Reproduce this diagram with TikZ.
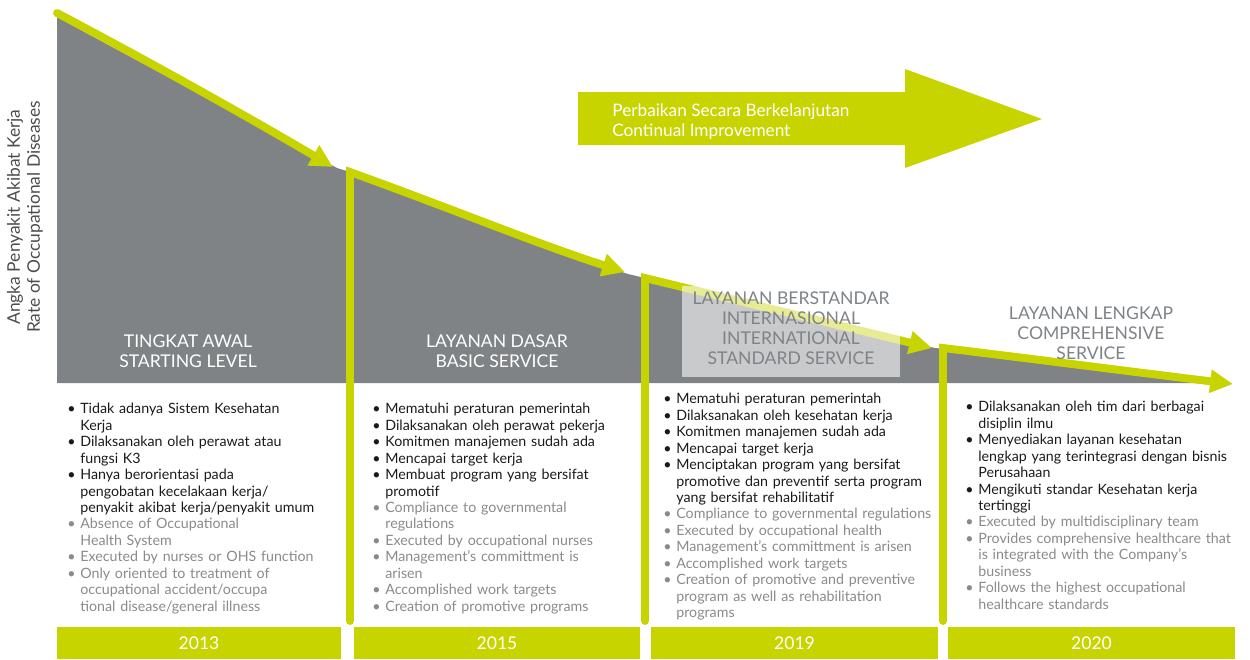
\documentclass[tikz,border=0pt]{standalone}
\usepackage{fontspec}
\setmainfont{Lato}
\usetikzlibrary{arrows.meta}

\definecolor{limegreen}{HTML}{C8D400}
\definecolor{slategray}{HTML}{7F8386}
\definecolor{titlegray}{HTML}{7F8387}
\definecolor{engtext}{HTML}{8A8A8A}
\definecolor{idtext}{HTML}{1A1A1A}
\definecolor{axistext}{HTML}{4D4D4D}

\newcommand{\bul}[2][idtext]{\par\hangindent=7.4pt\hangafter=1\noindent\textcolor{#1}{\makebox[7.4pt][l]{\textbullet}#2}}

\begin{document}
\begin{tikzpicture}[
    x=0.02cm, y=-0.02cm,
    trend/.style={draw=limegreen, line width=4.5pt, line cap=round, -{Triangle[width=12.5pt,length=13pt]}},
    title/.style={align=center, inner sep=0, font=\fontsize{10}{11.3}\selectfont},
    list/.style={anchor=north west, inner sep=0, text width=6cm, align=left, font=\fontsize{8.1}{9.36}\selectfont},
    yearbar/.style={fill=limegreen, text=white, minimum height=0.64cm, inner sep=0, font=\fontsize{10}{12}\selectfont}
]
    \useasboundingbox (0,0) rectangle (1250,659);

    % Declining area
    \fill[slategray] (57,17) .. controls (150,68) and (250,120) .. (337,168) -- (350,172)
        .. controls (450,208) and (540,246) .. (628,274) -- (645,278) -- (935,348) -- (945,349)
        .. controls (1050,362) and (1150,374) .. (1225,383) -- (57,383) -- cycle;

    % Axis label
    \node[rotate=90, align=center, text=axistext, font=\fontsize{9.9}{11.3}\selectfont] (axis) at (25,217)
        {Angka Penyakit Akibat Kerja\\Rate of Occupational Diseases};

    % Stage titles
    \node[title, text=white] (starting) at (188,351) {TINGKAT AWAL\\STARTING LEVEL};
    \node[title, text=white] (basic) at (497,351) {LAYANAN DASAR\\BASIC SERVICE};

    % Trend lines
    \coordinate (s1) at (57,13);
    \coordinate (e1) at (333,167);
    \coordinate (b2) at (350,621);
    \coordinate (s2) at (350,172);
    \coordinate (e2) at (625,272);
    \coordinate (b3) at (645,621);
    \coordinate (s3) at (645,278);
    \coordinate (e3) at (932,348);
    \coordinate (b4) at (943,621);
    \coordinate (s4) at (943,348);
    \coordinate (e4) at (1233,384);
    \draw[trend] (s1) .. controls (150,62) and (250,118) .. (e1);
    \draw[trend] (b2) -- (s2) .. controls (450,208) and (540,245) .. (e2);
    \draw[trend] (b3) -- (s3) -- (e3);
    \draw[trend] (b4) -- (s4) .. controls (1050,361) and (1150,374) .. (e4);

    % Highlight box
    \fill[white, fill opacity=0.58] (682,286) rectangle (900,377);
    \node[title, text=titlegray] (intl) at (791,328)
        {LAYANAN BERSTANDAR\\INTERNASIONAL\\INTERNATIONAL\\STANDARD SERVICE};
    \node[title, text=titlegray] (comp) at (1091,333)
        {LAYANAN LENGKAP\\COMPREHENSIVE\\SERVICE};

    % Continual improvement arrow
    \fill[limegreen] (578,92) -- (905,92) -- (905,69) -- (1042,119) -- (905,168) -- (905,145) -- (578,145) -- cycle;
    \node[anchor=west, align=left, text=white, inner sep=0, font=\fontsize{9.8}{11.3}\selectfont] (improve) at (612,122)
        {Perbaikan Secara Berkelanjutan\\Continual Improvement};

    % Stage descriptions
    \node[list] (txt2013) at (67,397) {%
        \bul{Tidak adanya Sistem Kesehatan\newline Kerja}
        \bul{Dilaksanakan oleh perawat atau\newline fungsi K3}
        \bul{Hanya berorientasi pada\newline pengobatan kecelakaan kerja/\newline penyakit akibat kerja/penyakit umum}
        \bul[engtext]{Absence of Occupational\newline Health System}
        \bul[engtext]{Executed by nurses or OHS function}
        \bul[engtext]{Only oriented to treatment of\newline occupational accident/occupa\newline tional disease/general illness}\par};
    \node[list] (txt2015) at (372,397) {%
        \bul{Mematuhi peraturan pemerintah}
        \bul{Dilaksanakan oleh perawat pekerja}
        \bul{Komitmen manajemen sudah ada}
        \bul{Mencapai target kerja}
        \bul{Membuat program yang bersifat\newline promotif}
        \bul[engtext]{Compliance to governmental\newline regulations}
        \bul[engtext]{Executed by occupational nurses}
        \bul[engtext]{Management's committment is\newline arisen}
        \bul[engtext]{Accomplished work targets}
        \bul[engtext]{Creation of promotive programs}\par};
    \node[list] (txt2019) at (663,387) {%
        \bul{Mematuhi peraturan pemerintah}
        \bul{Dilaksanakan oleh kesehatan kerja}
        \bul{Komitmen manajemen sudah ada}
        \bul{Mencapai target kerja}
        \bul{Menciptakan program yang bersifat\newline promotive dan preventif serta program\newline yang bersifat rehabilitatif}
        \bul[engtext]{Compliance to governmental regulations}
        \bul[engtext]{Executed by occupational health}
        \bul[engtext]{Management's committment is arisen}
        \bul[engtext]{Accomplished work targets}
        \bul[engtext]{Creation of promotive and preventive\newline program as well as rehabilitation\newline programs}\par};
    \node[list] (txt2020) at (965,395) {%
        \bul{Dilaksanakan oleh tim dari berbagai\newline disiplin ilmu}
        \bul{Menyediakan layanan kesehatan\newline lengkap yang terintegrasi dengan bisnis\newline Perusahaan}
        \bul{Mengikuti standar Kesehatan kerja\newline tertinggi}
        \bul[engtext]{Executed by multidisciplinary team}
        \bul[engtext]{Provides comprehensive healthcare that\newline is integrated with the Company's\newline business}
        \bul[engtext]{Follows the highest occupational\newline healthcare standards}\par};

    % Years
    \node[yearbar, minimum width=5.68cm] (y2013) at (199,643) {2013};
    \node[yearbar, minimum width=5.72cm] (y2015) at (497,643) {2015};
    \node[yearbar, minimum width=5.74cm] (y2019) at (794.5,643) {2019};
    \node[yearbar, minimum width=5.74cm] (y2020) at (1091.5,643) {2020};
\end{tikzpicture}
\end{document}
